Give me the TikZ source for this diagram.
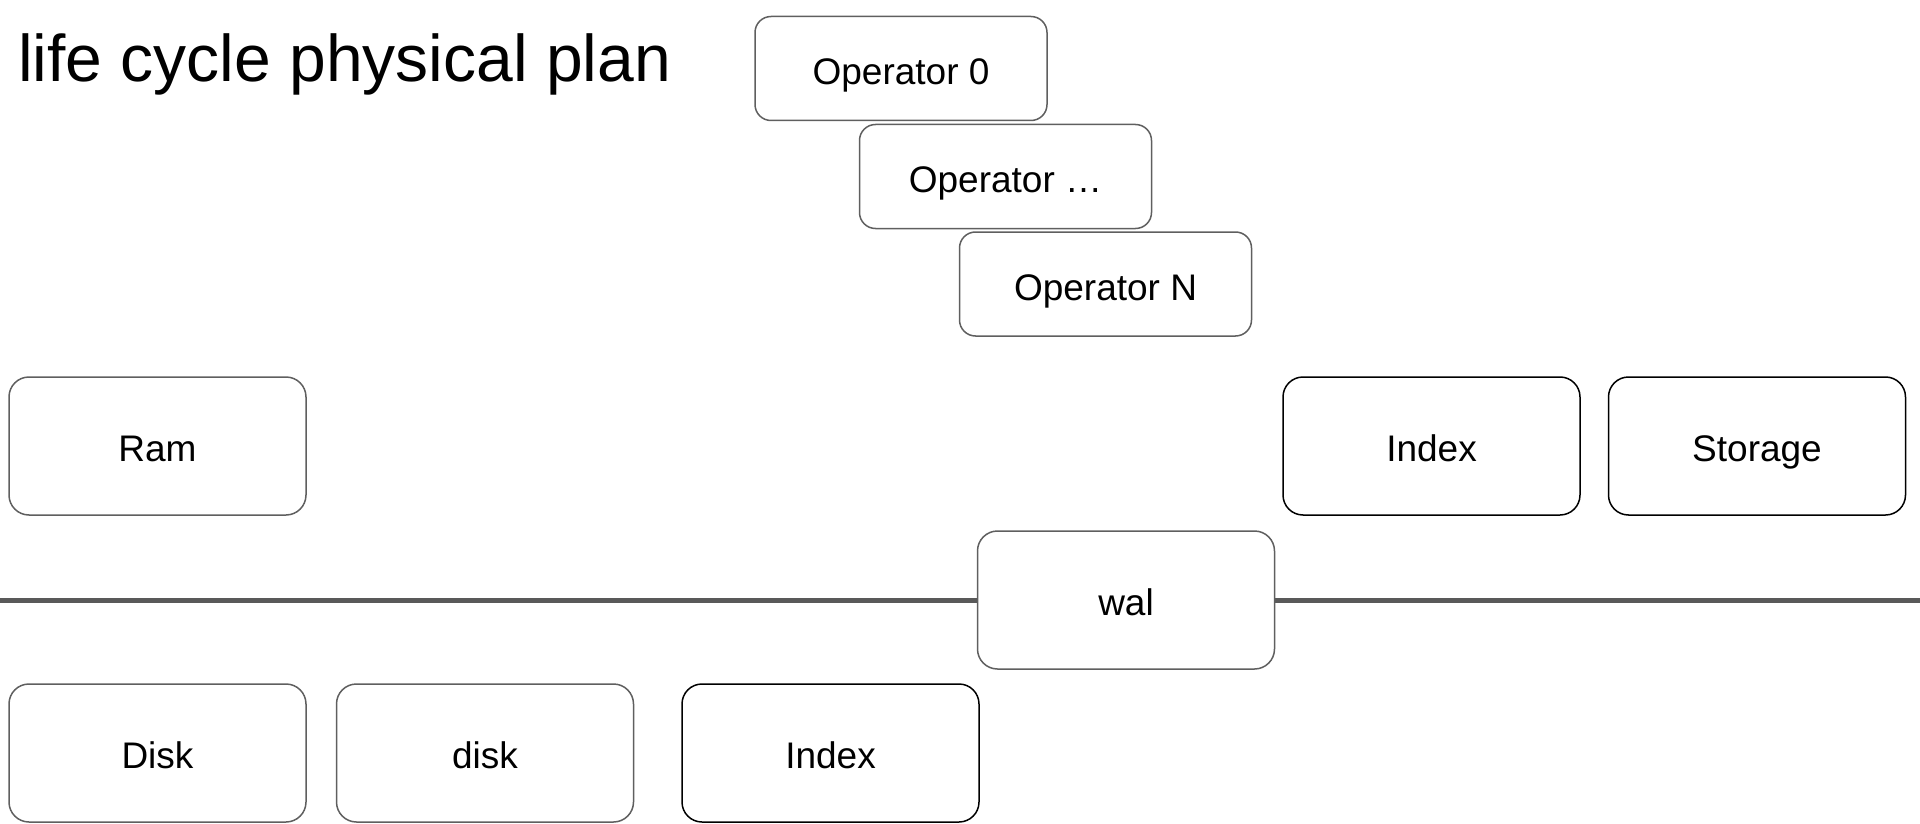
\documentclass[tikz,border=0pt]{standalone}
\usepackage{fontspec}
\setmainfont{Liberation Sans}
\definecolor{edgegrey}{HTML}{5F5F5F}
\definecolor{linegrey}{HTML}{595959}
\tikzset{
  box/.style={draw=edgegrey, fill=white, rounded corners=20pt, line width=1.5pt,
    minimum width=297pt, minimum height=138pt, inner sep=0pt,
    text height=31pt, text depth=0pt,
    font=\fontsize{37}{44}\selectfont},
  darkbox/.style={box, draw=black},
  opbox/.style={box, rounded corners=16pt, minimum width=292pt, minimum height=104pt, text height=32pt},
  divider/.style={draw=linegrey, line width=5pt}
}
\begin{document}
\begin{tikzpicture}[x=1pt,y=-1pt]
\useasboundingbox (0,0) rectangle (1920,824);
\node[anchor=base west, inner sep=0pt, font=\fontsize{66}{78}\selectfont] (title) at (18,82) {life cycle physical plan};
\node[opbox] (op0) at (901,68.5) {Operator 0};
\node[opbox] (opdots) at (1005.5,176.5) {Operator …};
\node[opbox] (opN) at (1105.5,284) {Operator N};
\node[box] (ram) at (157.5,446) {Ram};
\node[darkbox] (index1) at (1431.5,446) {Index};
\node[darkbox] (storage) at (1757,446) {Storage};
\coordinate (lineL) at (0,600);
\coordinate (lineR) at (1920,600);
\draw[divider] (lineL) -- (lineR);
\node[box] (wal) at (1126,600) {wal};
\node[box] (disk1) at (157.5,753) {Disk};
\node[box] (disk2) at (485,753) {disk};
\node[darkbox] (index2) at (830.5,753) {Index};
\end{tikzpicture}
\end{document}
